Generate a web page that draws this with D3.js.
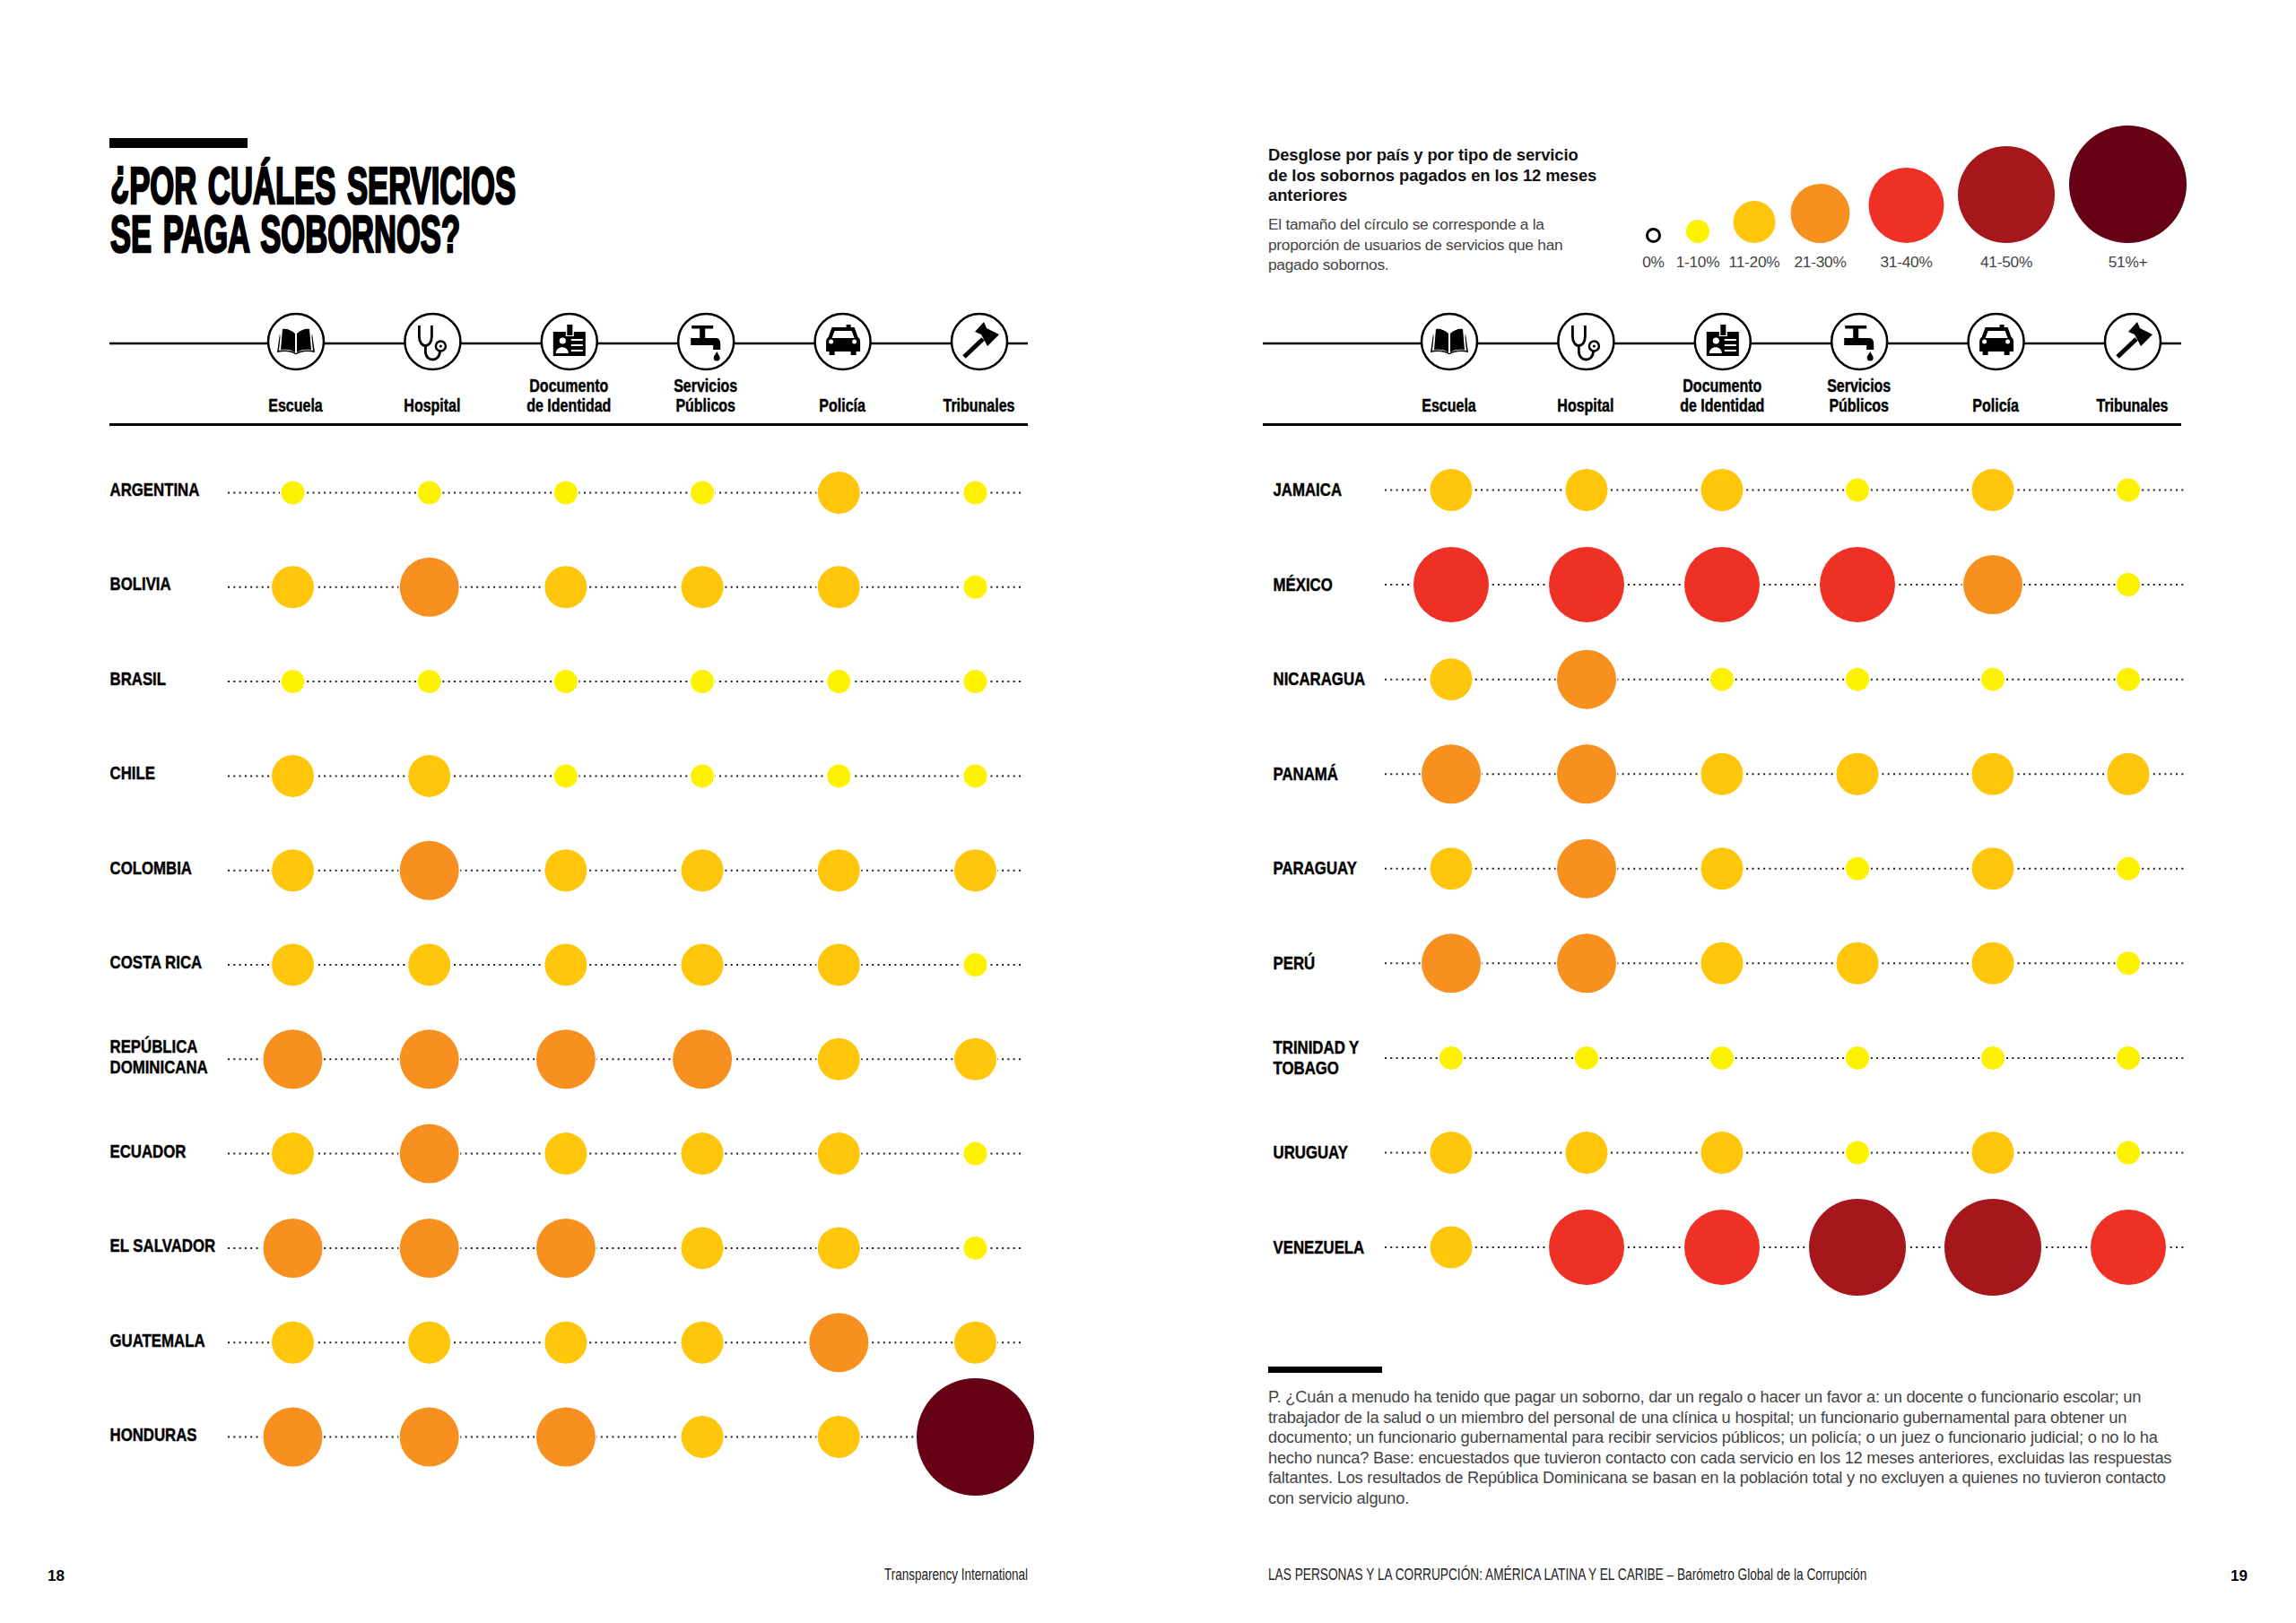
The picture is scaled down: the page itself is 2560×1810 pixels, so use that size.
<!DOCTYPE html>
<html lang="es">
<head>
<meta charset="utf-8">
<title>¿Por cuáles servicios se paga sobornos?</title>
<script src="https://cdn.jsdelivr.net/npm/d3@7"></script>
<style>
  html, body { margin: 0; background: #fff; }
  svg { display: block; }
  text { font-family: "Liberation Sans", Arial, sans-serif; }
  .narrow { font-weight: 700; fill: #000; stroke: #000; stroke-width: .45; }
  .title { font-size: 58px; stroke-width: 2.6; word-spacing: 5px; }
  .country { font-size: 21px; }
  .service { font-size: 20.5px; text-anchor: middle; }
  .thin { fill: #444; }
  .legend-head { font-size: 18.4px; font-weight: 700; fill: #111; letter-spacing: -.07px; }
  .legend-body { font-size: 17.3px; letter-spacing: -.25px; }
  .legend-label { font-size: 17.3px; letter-spacing: -.25px; text-anchor: middle; }
  .note { font-size: 18.3px; letter-spacing: -.23px; }
  .foot { font-size: 18px; fill: #222; }
  .page { font-size: 17px; font-weight: 700; fill: #000; }
</style>
</head>
<body>
<svg id="chart" width="2560" height="1810"></svg>
<script>
// --- Data ---
const services = ["Escuela", "Hospital", "Documento de Identidad", "Servicios Públicos", "Policía", "Tribunales"];
const serviceLines = [["Escuela"], ["Hospital"], ["Documento", "de Identidad"], ["Servicios", "Públicos"], ["Policía"], ["Tribunales"]];
const icons = ["book", "stethoscope", "idcard", "tap", "car", "gavel"];

// band index: 1 = 1-10%, 2 = 11-20%, 3 = 21-30%, 4 = 31-40%, 5 = 41-50%, 6 = 51%+
const bandLabels = ["0%", "1-10%", "11-20%", "21-30%", "31-40%", "41-50%", "51%+"];
const bandColors = ["#ffffff", "#fff200", "#ffc60b", "#f7901e", "#ee3124", "#a6171c", "#660014"];
const bandRadii = [7, 13, 23.5, 33, 42, 54, 65.5];

const leftCountries = ["ARGENTINA", "BOLIVIA", "BRASIL", "CHILE", "COLOMBIA", "COSTA RICA", "REPÚBLICA DOMINICANA", "ECUADOR", "EL SALVADOR", "GUATEMALA", "HONDURAS"];
const leftValues = [
  [1, 1, 1, 1, 2, 1],
  [2, 3, 2, 2, 2, 1],
  [1, 1, 1, 1, 1, 1],
  [2, 2, 1, 1, 1, 1],
  [2, 3, 2, 2, 2, 2],
  [2, 2, 2, 2, 2, 1],
  [3, 3, 3, 3, 2, 2],
  [2, 3, 2, 2, 2, 1],
  [3, 3, 3, 2, 2, 1],
  [2, 2, 2, 2, 3, 2],
  [3, 3, 3, 2, 2, 6]
];

const rightCountries = ["JAMAICA", "MÉXICO", "NICARAGUA", "PANAMÁ", "PARAGUAY", "PERÚ", "TRINIDAD Y TOBAGO", "URUGUAY", "VENEZUELA"];
const rightValues = [
  [2, 2, 2, 1, 2, 1],
  [4, 4, 4, 4, 3, 1],
  [2, 3, 1, 1, 1, 1],
  [3, 3, 2, 2, 2, 2],
  [2, 3, 2, 1, 2, 1],
  [3, 3, 2, 2, 2, 1],
  [1, 1, 1, 1, 1, 1],
  [2, 2, 2, 1, 2, 1],
  [2, 4, 4, 5, 5, 4]
];
const countryLines = { "REPÚBLICA DOMINICANA": ["REPÚBLICA", "DOMINICANA"], "TRINIDAD Y TOBAGO": ["TRINIDAD Y", "TOBAGO"] };

const legendCentres = [1843.5, 1893, 1956, 2029.5, 2125.5, 2237, 2372.5];
const legendHead = ["Desglose por país y por tipo de servicio", "de los sobornos pagados en los 12 meses", "anteriores"];
const legendBody = ["El tamaño del círculo se corresponde a la", "proporción de usuarios de servicios que han", "pagado sobornos."];
const noteLines = [
  "P. ¿Cuán a menudo ha tenido que pagar un soborno, dar un regalo o hacer un favor a: un docente o funcionario escolar; un",
  "trabajador de la salud o un miembro del personal de una clínica u hospital; un funcionario gubernamental para obtener un",
  "documento; un funcionario gubernamental para recibir servicios públicos; un policía; o un juez o funcionario judicial; o no lo ha",
  "hecho nunca? Base: encuestados que tuvieron contacto con cada servicio en los 12 meses anteriores, excluidas las respuestas",
  "faltantes. Los resultados de República Dominicana se basan en la población total y no excluyen a quienes no tuvieron contacto",
  "con servicio alguno."
];

const svg = d3.select("#chart");
svg.append("rect").attr("width", 2560).attr("height", 1810).attr("fill", "#fff");

// No condensed face installed, so squeeze the regular one to the measured width
function condense(sel, k) {
  const w = sel.node().getComputedTextLength();
  return sel.attr("textLength", w * k).attr("lengthAdjust", "spacingAndGlyphs");
}

// --- Icons, drawn around (0,0) ---
function drawIcon(g, name) {
  const fillPath = (d, col) => g.append("path").attr("d", d).attr("fill", col || "#000");
  if (name === "book") {
    fillPath("M-1,-9 C-5,-13 -11,-15 -15,-14 L-17,9 C-10,8 -5,9 -1,12 Z");
    fillPath("M1,-9 C5,-13 11,-15 15,-14 L17,9 C10,8 5,9 1,12 Z");
    fillPath("M-18,-9 L-21,12 C-12,10 -5,11 0,14.5 C5,11 12,10 21,12 L18,-9 L17.5,-5 L19,10 C12,9 5,9.5 0,13 C-5,9.5 -12,9 -19,10 L-17.5,-5 Z");
  } else if (name === "stethoscope") {
    g.append("path")
      .attr("d", "M-15,-18 V-6 C-15,8 -1,8 -1,-6 V-18 M-8,3 V11 C-8,23 8,23 8,11 V9")
      .attr("fill", "none").attr("stroke", "#000").attr("stroke-width", 2.8);
    g.append("circle").attr("cx", 9).attr("cy", 5).attr("r", 5.5).attr("fill", "#fff").attr("stroke", "#000").attr("stroke-width", 2.5);
    g.append("circle").attr("cx", 9).attr("cy", 5).attr("r", 1.5);
  } else if (name === "idcard") {
    g.append("rect").attr("x", -18).attr("y", -11).attr("width", 36).attr("height", 27);
    g.append("rect").attr("x", -4).attr("y", -12).attr("width", 9).attr("height", 6).attr("fill", "#fff");
    g.append("rect").attr("x", -2.5).attr("y", -19).attr("width", 6).attr("height", 12);
    g.append("circle").attr("cx", -7.5).attr("cy", -1).attr("r", 3.6).attr("fill", "#fff");
    fillPath("M-15,13 C-15,4 -1,4 -1,13 Z", "#fff");
    g.append("path").attr("d", "M2,-2 H15 M2,4 H15 M2,10 H15").attr("stroke", "#fff").attr("stroke-width", 2);
  } else if (name === "tap") {
    fillPath("M-16,-18 H8 V-14.5 H-1 V-4 H11 C15,-4 16,-1 16,3 V9 H8 V4 H-17 V-4 H-7 V-14.5 H-16 Z");
    fillPath("M12,11 C14,15 15.5,16 15.5,18 A3.5,3.5 0 0 1 8.5,18 C8.5,16 10,15 12,11 Z");
  } else if (name === "car") {
    fillPath("M4,-19 H9 V-16 H13 L17,-5 C19,-4 19.5,-2 19.5,1 V11 H15 V15 H9 V11 H-9 V15 H-15 V11 H-18.5 V1 C-18.5,-2 -18,-4 -16,-5 L-12,-16 H4 Z");
    fillPath("M-9,-12 H10 L13,-4 H-12 Z", "#fff");
    g.append("circle").attr("cx", -13).attr("cy", 0).attr("r", 2.5).attr("fill", "#fff");
    g.append("circle").attr("cx", 13).attr("cy", 0).attr("r", 2.5).attr("fill", "#fff");
  } else if (name === "gavel") {
    fillPath("M5,-22 L8,-15 L22,-8 L9,5 L2,-8 L-5,-11 Z");
    g.append("line").attr("x1", 4).attr("y1", -3).attr("x2", -17).attr("y2", 17).attr("stroke", "#000").attr("stroke-width", 5);
  }
}

// --- One page of the matrix ---
function drawPage(opts) {
  const g = svg.append("g");
  const colX = d3.scalePoint().domain(services).range(opts.dotRange);
  const iconX = d3.scalePoint().domain(services).range(opts.iconRange);
  const rowY = d3.scalePoint().domain(opts.countries).range(opts.rowRange);
  const labelY = d3.scalePoint().domain(opts.countries).range(opts.labelRange);

  // header rules
  g.append("line").attr("x1", opts.ruleX[0]).attr("x2", opts.ruleX[1]).attr("y1", 383).attr("y2", 383)
    .attr("stroke", "#000").attr("stroke-width", 2.6);
  g.append("line").attr("x1", opts.ruleX[0]).attr("x2", opts.ruleX[1]).attr("y1", 473.5).attr("y2", 473.5)
    .attr("stroke", "#000").attr("stroke-width", 2.8);

  services.forEach((s, i) => {
    const ig = g.append("g").attr("transform", `translate(${iconX(s)},381)`);
    ig.append("circle").attr("r", 31).attr("fill", "#fff").attr("stroke", "#000").attr("stroke-width", 2.5);
    drawIcon(ig, icons[i]);
    const lines = serviceLines[i];
    lines.forEach((t, k) => {
      const label = g.append("text").attr("class", "narrow service")
        .attr("x", iconX(s) - 0.5)
        .attr("y", 458.5 - (lines.length - 1 - k) * 21.5)
        .text(t);
      condense(label, 0.78);
    });
  });

  // rows
  opts.countries.forEach((c, r) => {
    const y = rowY(c);
    const row = g.append("g");
    row.append("line").attr("x1", opts.dotX[0]).attr("x2", opts.dotX[1]).attr("y1", y).attr("y2", y)
      .attr("stroke", "#222").attr("stroke-width", 2).attr("stroke-dasharray", "2 4.3");
    row.selectAll("circle")
      .data(opts.values[r])
      .join("circle")
      .attr("cx", (d, i) => colX(services[i]))
      .attr("cy", y)
      .attr("r", d => bandRadii[d])
      .attr("fill", d => bandColors[d])
      .attr("stroke", "#fff")
      .attr("stroke-width", 3)
      .attr("paint-order", "stroke");
    const lines = countryLines[c] || [c];
    lines.forEach((t, k) => {
      const label = row.append("text").attr("class", "narrow country")
        .attr("x", opts.labelX)
        .attr("y", labelY(c) + (k - (lines.length - 1) / 2) * 23.5)
        .text(t);
      condense(label, 0.8);
    });
  });
}

drawPage({
  countries: leftCountries, values: leftValues,
  dotRange: [326.5, 1087.5], iconRange: [330, 1092], rowRange: [549.5, 1602.5], labelRange: [553, 1607],
  ruleX: [122, 1146], dotX: [254, 1140], labelX: 122.5
});
drawPage({
  countries: rightCountries, values: rightValues,
  dotRange: [1618, 2373], iconRange: [1616, 2378], rowRange: [546.5, 1391], labelRange: [553, 1397.5],
  ruleX: [1408, 2432], dotX: [1544, 2436], labelX: 1419.5
});

// --- Title block ---
svg.append("rect").attr("x", 122).attr("y", 154).attr("width", 154).attr("height", 11).attr("fill", "#000");
const title1 = svg.append("text").attr("class", "narrow title").attr("x", 123).attr("y", 227)
  .attr("textLength", 452).attr("lengthAdjust", "spacingAndGlyphs");
title1.append("tspan").attr("dy", -11).text("¿");
title1.append("tspan").attr("dy", 11).text("POR CUÁLES SERVICIOS");
svg.append("text").attr("class", "narrow title").attr("x", 123).attr("y", 281)
  .attr("textLength", 390).attr("lengthAdjust", "spacingAndGlyphs").text("SE PAGA SOBORNOS?");

// --- Legend ---
legendHead.forEach((t, i) => {
  svg.append("text").attr("class", "legend-head").attr("x", 1414).attr("y", 179 + i * 22.7).text(t);
});
legendBody.forEach((t, i) => {
  svg.append("text").attr("class", "legend-body thin").attr("x", 1414).attr("y", 256 + i * 22.6).text(t);
});
const legendBase = 271;
svg.append("g").selectAll("circle")
  .data(d3.range(bandLabels.length))
  .join("circle")
  .attr("cx", i => legendCentres[i])
  .attr("cy", i => legendBase - (i === 0 ? bandRadii[i] + 1.5 : bandRadii[i]))
  .attr("r", i => bandRadii[i])
  .attr("fill", i => bandColors[i])
  .attr("stroke", i => i === 0 ? "#000" : "none")
  .attr("stroke-width", 3);
bandLabels.forEach((t, i) => {
  svg.append("text").attr("class", "legend-label thin").attr("x", legendCentres[i]).attr("y", 298).text(t);
});

// --- Footnote ---
svg.append("rect").attr("x", 1414).attr("y", 1524).attr("width", 127).attr("height", 7).attr("fill", "#000");
noteLines.forEach((t, i) => {
  svg.append("text").attr("class", "note thin").attr("x", 1414).attr("y", 1564 + i * 22.6).text(t);
});

// --- Page furniture ---
svg.append("text").attr("class", "page").attr("x", 53).attr("y", 1763).text("18");
svg.append("text").attr("class", "page").attr("x", 2487).attr("y", 1763).text("19");
condense(svg.append("text").attr("class", "foot").attr("x", 1146).attr("y", 1762).attr("text-anchor", "end").text("Transparency International"), 0.75);
condense(svg.append("text").attr("class", "foot").attr("x", 1414).attr("y", 1762).text("LAS PERSONAS Y LA CORRUPCIÓN: AMÉRICA LATINA Y EL CARIBE – Barómetro Global de la Corrupción"), 0.76);
</script>
</body>
</html>
